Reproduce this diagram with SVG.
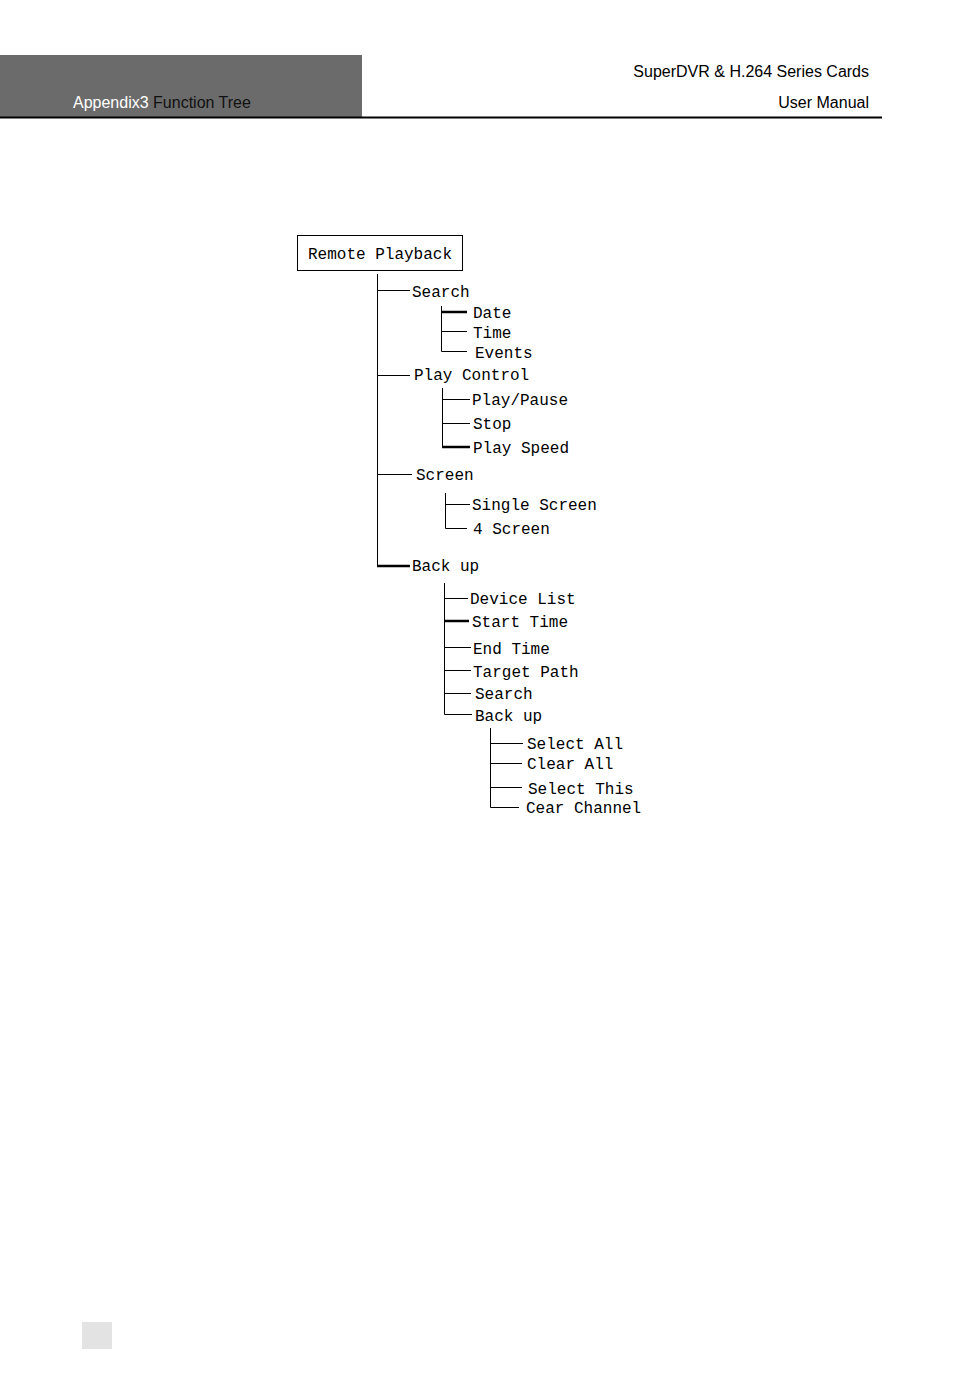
<svg xmlns="http://www.w3.org/2000/svg" width="954" height="1384" viewBox="0 0 954 1384">
<style>
.h{font-family:"Liberation Sans",Arial,sans-serif;font-size:16px}
.t{font-family:"Liberation Mono","DejaVu Sans Mono",monospace;font-size:16px;fill:#000}
.l{stroke:#000;stroke-width:1;fill:none}
.b{stroke:#000;stroke-width:2.5;fill:none}
</style>
<rect width="954" height="1384" fill="#fff"/>
<g id="header">
<rect x="0" y="55" width="362" height="62" fill="#6b6b6b"/>
<line x1="0" y1="117.5" x2="882" y2="117.5" stroke="#000" stroke-width="2"/>
<text class="h" x="73" y="108" fill="#fff">Appendix3 <tspan fill="#111">Function Tree</tspan></text>
<text class="h" x="869" y="77" text-anchor="end">SuperDVR &amp; H.264 Series Cards</text>
<text class="h" x="869" y="108" text-anchor="end">User  Manual</text>
</g>
<rect x="82" y="1322" width="30" height="27" fill="#e3e3e3"/>
<g id="root"><rect x="297.5" y="235.5" width="165" height="35" class="l"/><text class="t" x="308" y="259">Remote Playback</text></g>
<g id="connectors">
<path class="l" d="M377.5 274V566M377 290.5H410M377 375.5H410M377 474.5H412"/>
<path class="b" d="M377 566H410"/>
<path class="l" d="M441.5 306V351.5H467M441 331.5H467"/>
<path class="b" d="M441 312H467"/>
<path class="l" d="M442.5 388V447M442 399.5H470M442 423.5H470"/>
<path class="b" d="M442 447H470"/>
<path class="l" d="M445.5 493V528.5H467M445 504.5H470"/>
<path class="l" d="M444.5 583V714.5H472M444 598.5H468M444 647.5H471M444 670.5H471M444 693.5H471"/>
<path class="b" d="M444 621H469"/>
<path class="l" d="M490.5 728V807.5H519M490 743.5H523M490 763.5H522M490 787.5H522"/>
</g>
<g id="n-search"><text class="t" x="412" y="297">Search</text></g>
<g id="n-date"><text class="t" x="473" y="318">Date</text></g>
<g id="n-time"><text class="t" x="473" y="338">Time</text></g>
<g id="n-events"><text class="t" x="475" y="358">Events</text></g>
<g id="n-playcontrol"><text class="t" x="414" y="380">Play Control</text></g>
<g id="n-playpause"><text class="t" x="472" y="405">Play/Pause</text></g>
<g id="n-stop"><text class="t" x="473" y="429">Stop</text></g>
<g id="n-playspeed"><text class="t" x="473" y="453">Play Speed</text></g>
<g id="n-screen"><text class="t" x="416" y="480">Screen</text></g>
<g id="n-single"><text class="t" x="472" y="510">Single Screen</text></g>
<g id="n-4screen"><text class="t" x="473" y="534">4 Screen</text></g>
<g id="n-backup"><text class="t" x="412" y="571">Back up</text></g>
<g id="n-devicelist"><text class="t" x="470" y="604">Device List</text></g>
<g id="n-starttime"><text class="t" x="472" y="627">Start Time</text></g>
<g id="n-endtime"><text class="t" x="473" y="654">End Time</text></g>
<g id="n-targetpath"><text class="t" x="473" y="677">Target Path</text></g>
<g id="n-search2"><text class="t" x="475" y="699">Search</text></g>
<g id="n-backup2"><text class="t" x="475" y="721">Back up</text></g>
<g id="n-selectall"><text class="t" x="527" y="749">Select All</text></g>
<g id="n-clearall"><text class="t" x="527" y="769">Clear All</text></g>
<g id="n-selectthis"><text class="t" x="528" y="794">Select This</text></g>
<g id="n-cearchannel"><text class="t" x="526" y="813">Cear Channel</text></g>
</svg>
